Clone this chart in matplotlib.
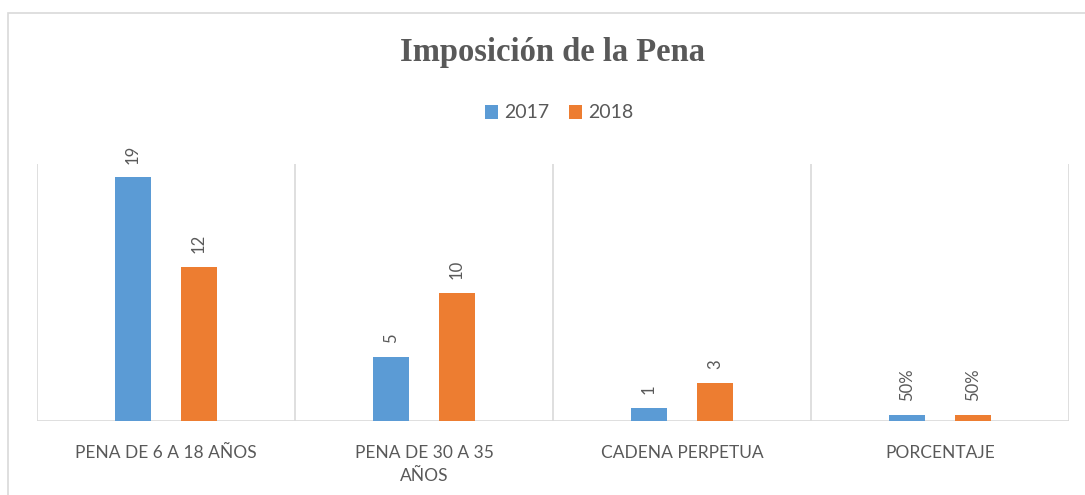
import matplotlib
matplotlib.use("Agg")
import matplotlib.pyplot as plt
from matplotlib.patches import Rectangle
import numpy as np

categories = ["PENA DE 6 A 18 AÑOS", "PENA DE 30 A 35\nAÑOS", "CADENA PERPETUA", "PORCENTAJE"]
series_names = ["2017", "2018"]
values_2017 = [19, 5, 1, 0.5]
values_2018 = [12, 10, 3, 0.5]
labels_2017 = ["19", "5", "1", "50%"]
labels_2018 = ["12", "10", "3", "50%"]

blue = "#5B9BD5"
orange = "#ED7D31"
txt = "#595959"
grid = "#D9D9D9"

W, H = 1085, 495
fig = plt.figure(figsize=(W / 100, H / 100), dpi=100)

# outer chart border
fig.patches.append(Rectangle((8 / W, -0.01), 1.02, (H - 13) / H + 0.01, transform=fig.transFigure,
                             fill=False, edgecolor=grid, linewidth=1.2))

ax = fig.add_axes([37 / W, (H - 421) / H, (1069 - 37) / W, (421 - 164) / H])
x = np.arange(len(categories))
bw = 0.136
off = 0.128
b1 = ax.bar(x - off, values_2017, bw, color=blue, label=series_names[0], zorder=3)
b2 = ax.bar(x + off, values_2018, bw, color=orange, label=series_names[1], zorder=3)

ax.set_xlim(-0.5, len(categories) - 0.5)
ax.set_ylim(0, 20.05)
for s in ax.spines.values():
    s.set_visible(False)
ax.set_yticks([])
ax.set_xticks(x)
ax.set_xticklabels(categories, fontsize=12.5, color=txt, family="Lato", linespacing=1.55)
ax.tick_params(axis="x", length=0, pad=17)
ax.axhline(0, color=grid, lw=1.2, zorder=2)
for sx in np.arange(-0.5, len(categories), 1.0):
    ax.axvline(sx, color=grid, lw=1.2, zorder=1)

for bars, labs in ((b1, labels_2017), (b2, labels_2018)):
    for rect, lab in zip(bars, labs):
        ax.annotate(lab, (rect.get_x() + rect.get_width() / 2, rect.get_height()),
                    xytext=(0, 10), textcoords="offset points", rotation=90,
                    ha="center", va="bottom", fontsize=12, color=txt, family="Lato")

fig.text(552 / W, 1 - 53 / H, "Imposición de la Pena", ha="center", va="center",
         fontsize=23.5, fontweight="bold", color=txt, family="Liberation Serif")

fig.legend(handles=[b1, b2], labels=series_names, loc="center", bbox_to_anchor=(559 / W, 1 - 113 / H),
           ncol=2, frameon=False, handlelength=0.7, handleheight=0.7,
           handletextpad=0.3, columnspacing=1.0, labelcolor=txt, prop={"family": "Lato", "size": 14})

fig.savefig("out.png", dpi=100, facecolor="white")
